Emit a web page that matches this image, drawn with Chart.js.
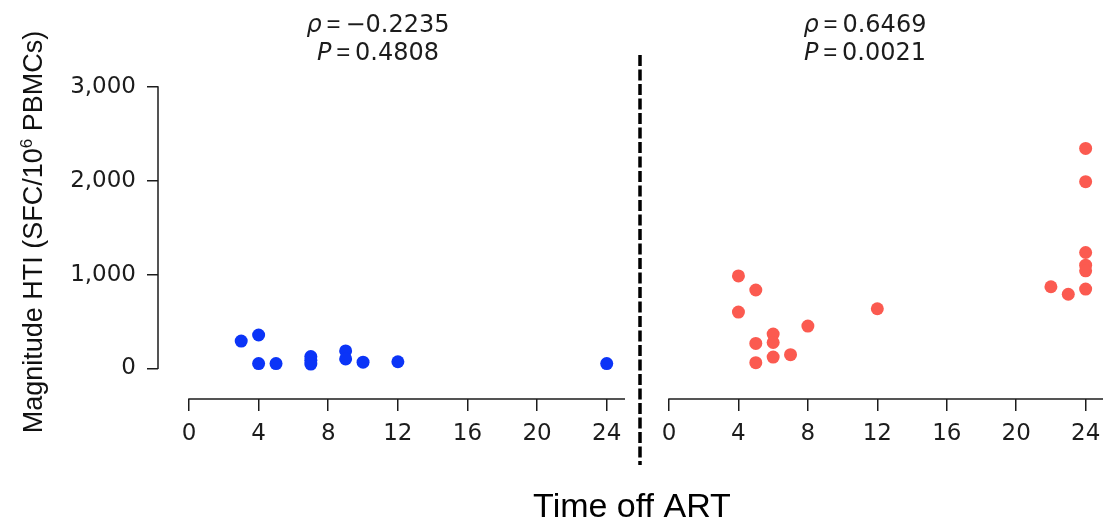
<!DOCTYPE html>
<html>
<head>
<meta charset="utf-8">
<script src="https://cdn.jsdelivr.net/npm/chart.js@4.4.1/dist/chart.umd.min.js"></script>
<style>
  html, body { margin: 0; padding: 0; background: #ffffff; }
  #wrap { position: relative; width: 1118px; height: 521px; overflow: hidden; }
  #wrap canvas { position: absolute; left: 0; top: 0; }
</style>
</head>
<body>
<div id="wrap">
  <canvas id="early" width="1118" height="521"></canvas>
  <canvas id="late" width="1118" height="521"></canvas>
</div>
<script>
// Axis ticks shared by both panels
const xTicks = [0, 4, 8, 12, 16, 20, 24];
const yTicks = [0, 1000, 2000, 3000];

// Left panel (blue): time off ART vs HTI magnitude
const earlyX = [3, 4, 4, 5, 7, 7, 7, 9, 9, 10, 12, 24];
const earlyY = [290, 355, 50, 50, 125, 85, 45, 185, 100, 65, 70, 50];

// Right panel (red)
const lateX = [4, 4, 5, 5, 5, 6, 6, 6, 7, 8, 12, 22, 23, 24, 24, 24, 24, 24, 24];
const lateY = [985, 600, 835, 265, 60, 365, 275, 120, 145, 450, 635, 870, 790, 2345, 1990, 1235, 1100, 1040, 845];

// Correlation annotations [rho, P]
const earlyStats = ['\u22120.2235', '0.4808'];
const lateStats = ['0.6469', '0.0021'];

const axisTitleY = ['Magnitude HTI (SFC/10', '6', ' PBMCs)'];
const axisTitleX = 'Time off ART';

const INK = '#1c1c1c';
const TICK_FONT = { family: 'DejaVu Sans', size: 23 };

function toPoints(xs, ys) {
  return xs.map((x, i) => ({ x: x, y: ys[i] }));
}

function drawRich(ctx, parts, cx, baseline) {
  let w = 0;
  parts.forEach(p => { ctx.font = p.font; w += ctx.measureText(p.t).width; });
  let x = cx - w / 2;
  parts.forEach(p => {
    ctx.font = p.font;
    ctx.fillText(p.t, x, baseline + (p.dy || 0));
    x += ctx.measureText(p.t).width;
  });
}

function statParts(sym, value) {
  return [
    { t: sym, font: 'italic 24px "DejaVu Sans"' },
    { t: '\u2009=\u2009', font: '24px "Liberation Sans"' },
    { t: value, font: '24px "DejaVu Sans"' }
  ];
}

// Detached axis lines: x axis from 0 to the right edge, y axis from 0 to 3,000
const axisLines = {
  id: 'axisLines',
  afterDatasetsDraw(chart, args, opts) {
    const { ctx, chartArea } = chart;
    const x = chart.scales.x, y = chart.scales.y;
    ctx.save();
    ctx.strokeStyle = INK;
    ctx.lineWidth = 1.5;
    ctx.beginPath();
    const yb = chartArea.bottom;
    ctx.moveTo(x.getPixelForValue(xTicks[0]) - 0.75, yb);
    ctx.lineTo(chartArea.right, yb);
    if (opts.yLine) {
      const xl = chartArea.left;
      ctx.moveTo(xl, y.getPixelForValue(yTicks[0]) + 0.75);
      ctx.lineTo(xl, y.getPixelForValue(yTicks[yTicks.length - 1]) - 0.75);
    }
    ctx.stroke();
    ctx.restore();
  }
};

// Panel annotations, shared axis titles and the dashed divider
const annotations = {
  id: 'annotations',
  afterDraw(chart, args, opts) {
    const { ctx } = chart;
    ctx.save();
    ctx.fillStyle = INK;
    ctx.textBaseline = 'alphabetic';
    ctx.textAlign = 'left';
    drawRich(ctx, statParts('\u03c1', opts.stats[0]), opts.statX, 32);
    drawRich(ctx, statParts('P', opts.stats[1]), opts.statX, 60);

    if (opts.shared) {
      // y axis title (rotated, with superscript)
      ctx.save();
      ctx.translate(42, 232);
      ctx.rotate(-Math.PI / 2);
      ctx.fillStyle = '#111';
      drawRich(ctx, [
        { t: axisTitleY[0], font: '27px "Liberation Sans"' },
        { t: axisTitleY[1], font: '17px "Liberation Sans"', dy: -10 },
        { t: axisTitleY[2], font: '27px "Liberation Sans"' }
      ], 0, 0);
      ctx.restore();

      // x axis title spanning both panels
      ctx.fillStyle = '#000';
      ctx.font = '34px "Liberation Sans"';
      ctx.textAlign = 'center';
      ctx.fillText(axisTitleX, 632, 517);

      // dashed divider
      ctx.strokeStyle = '#000';
      ctx.lineWidth = 3.5;
      ctx.setLineDash([11, 3.5]);
      ctx.beginPath();
      ctx.moveTo(640, 55);
      ctx.lineTo(640, 465);
      ctx.stroke();
    }
    ctx.restore();
  }
};

function xScale(min, max) {
  return {
    type: 'linear',
    min: min,
    max: max,
    afterBuildTicks: s => { s.ticks = xTicks.map(v => ({ value: v })); },
    afterFit: s => { s.height = 60; },
    border: { display: false },
    grid: { drawOnChartArea: false, drawTicks: true, tickLength: 12, color: INK, lineWidth: 1.5 },
    ticks: { font: TICK_FONT, color: INK, padding: 9, maxRotation: 0, autoSkip: false }
  };
}

function yScale(show) {
  const s = {
    type: 'linear',
    display: show,
    min: -327.4,
    max: 3000,
    afterBuildTicks: sc => { sc.ticks = yTicks.map(v => ({ value: v })); },
    border: { display: false },
    grid: { drawOnChartArea: false, drawTicks: true, tickLength: 11, color: INK, lineWidth: 1.5 },
    ticks: {
      font: TICK_FONT, color: INK, padding: 11,
      callback: v => v.toLocaleString('en-US')
    }
  };
  if (show) s.afterFit = sc => { sc.width = 158; };
  return s;
}

function makeChart(id, xs, ys, color, opts) {
  return new Chart(document.getElementById(id), {
    type: 'scatter',
    data: {
      datasets: [{
        data: toPoints(xs, ys),
        pointRadius: 6.5,
        pointBackgroundColor: color,
        pointBorderWidth: 0,
        pointHoverRadius: 6.5
      }]
    },
    options: {
      responsive: false,
      animation: false,
      devicePixelRatio: 1,
      layout: { padding: opts.padding },
      scales: { x: xScale(opts.xMin, opts.xMax), y: yScale(opts.showY) },
      plugins: {
        legend: { display: false },
        tooltip: { enabled: false },
        axisLines: { yLine: opts.showY },
        annotations: { stats: opts.stats, statX: opts.statX, shared: opts.showY }
      }
    },
    plugins: [axisLines, annotations]
  });
}

makeChart('early', earlyX, earlyY, '#0b34f7', {
  padding: { left: 0, right: 493, top: 87, bottom: 62 },
  xMin: -1.781, xMax: 25.05, showY: true, stats: earlyStats, statX: 378
});

makeChart('late', lateX, lateY, '#fb5a50', {
  padding: { left: 669, right: 15, top: 87, bottom: 62 },
  xMin: 0, xMax: 25.0, showY: false, stats: lateStats, statX: 865
});
</script>
</body>
</html>
